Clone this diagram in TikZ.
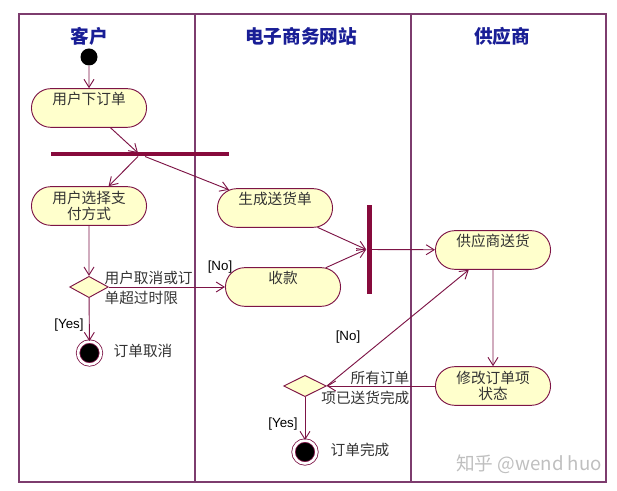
\documentclass[tikz,border=0pt]{standalone}
\usepackage{fontspec}
\setmainfont{Liberation Sans}
\newfontfamily\cjk{Noto Sans CJK SC}
\usepackage{tikz}
\usetikzlibrary{shapes.geometric, shapes.misc, arrows.meta}
\definecolor{umlred}{RGB}{125,20,70}
\definecolor{umlbar}{RGB}{135,10,60}
\definecolor{umlframe}{RGB}{125,60,110}
\definecolor{umlfill}{RGB}{255,255,204}
\definecolor{lanetitle}{RGB}{25,30,150}
\tikzstyle{action} = [rounded rectangle, minimum width=93pt, minimum height=29pt, inner ysep=1pt, draw=umlred, line width=0.7pt, fill=umlfill, text=black!80, font=\cjk\fontsize{11}{12}\selectfont, align=center]
\tikzstyle{oneline} = [text depth=14pt]
\tikzstyle{decision} = [diamond, minimum width=29pt, minimum height=16pt, inner sep=0pt, draw=umlred, line width=0.7pt, fill=umlfill]
\tikzstyle{startnode} = [circle, fill=black, minimum size=12.75pt, inner sep=0pt]
\tikzstyle{endnode} = [circle, fill=black, draw=umlred, line width=0.6pt, double=white, double distance=2pt, minimum size=17.2pt, inner sep=0pt]
\tikzstyle{bar} = [rectangle, fill=umlbar, inner sep=0pt]
\tikzstyle{lane} = [draw=umlframe, line width=0.8pt]
\tikzstyle{lanename} = [font=\cjk\bfseries\fontsize{14}{16}\selectfont, text=lanetitle]
\tikzstyle{guard} = [inner sep=1pt, font=\fontsize{10}{12}\selectfont]
\tikzstyle{note} = [inner sep=1pt, text=black!80, font=\cjk\fontsize{11}{15.5}\selectfont]
\tikzstyle{arrow} = [draw=umlred, line width=0.7pt, -{Straight Barb[length=6pt,width=7.5pt]}]

\begin{document}
\begin{tikzpicture}[x=0.75pt, y=-0.75pt]
    \useasboundingbox (0,0) rectangle (617,491);
    % swimlanes
    \draw [lane] (19,14) rectangle (606,482);
    \draw [lane] (195,14) -- (195,482);
    \draw [lane] (411,14) -- (411,482);
    \node (customer) [lanename] at (89,36) {客户};
    \node (website) [lanename] at (301,36) {电子商务网站};
    \node (supplier) [lanename] at (502,36) {供应商};

    % customer lane
    \node (start) [startnode] at (89,57) {};
    \node (order) [action, oneline] at (89,108) {用户下订单};
    \node (fork) [bar, minimum width=133.5pt, minimum height=3pt] at (140,154.5) {};
    \coordinate (forkin) at (138,153);
    \coordinate (forkout) at (138,156.5);
    \coordinate (forkout2) at (145,156.5);
    \node (pay) [action] at (89,206) {用户选择支\\付方式};
    \node (dec1) [decision] at (89,287) {};
    \node (cancel) [endnode] at (89.5,353) {};

    % website lane
    \node (ship) [action, oneline] at (275,208) {生成送货单};
    \node (collect) [action, oneline] at (283,287) {收款};
    \node (join) [bar, minimum width=3.75pt, minimum height=66.75pt] at (369,249.5) {};
    \node (dec2) [decision, minimum width=32pt] at (305,386) {};
    \node (done) [endnode] at (305,452) {};

    % supplier lane
    \node (deliver) [action, oneline] at (493,250) {供应商送货};
    \node (update) [action] at (493,386) {修改订单项\\状态};

    % labels
    \node (dec1text) [note, anchor=west, align=left] at (103,288) {用户取消或订\\单超过时限};
    \node (no1) [guard] at (220,267) {[No]};
    \node (yes1) [guard] at (69,325) {[Yes]};
    \node (canceltext) [note] at (143,351) {订单取消};
    \node (dec2text) [note, anchor=east, align=right] at (411,388) {所有订单\\项已送货完成};
    \node (no2) [guard] at (348,337) {[No]};
    \node (yes2) [guard] at (283,424) {[Yes]};
    \node (donetext) [note] at (360,450) {订单完成};
    \node (mark) [note, text=black!25, font=\cjk\fontsize{14}{16}\selectfont] at (529,464) {知乎 @wend huo};

    \draw [arrow] (start) -- (order);
    \draw [arrow] (order) -- (forkin);
    \draw [arrow] (forkout) -- (pay);
    \draw [arrow] (forkout2) -- (ship);
    \draw [arrow] (pay) -- (dec1);
    \draw [arrow] (dec1) -- (collect);
    \draw [arrow] (dec1) -- (cancel);
    \draw [arrow] (ship) -- (join.west);
    \draw [arrow] (collect) -- (join.west);
    \draw [arrow] (join) -- (deliver);
    \draw [arrow] (deliver) -- (update);
    \draw [arrow] (update) -- (dec2);
    \draw [arrow] (dec2.east) -- (deliver);
    \draw [arrow] (dec2) -- (done);
\end{tikzpicture}
\end{document}
